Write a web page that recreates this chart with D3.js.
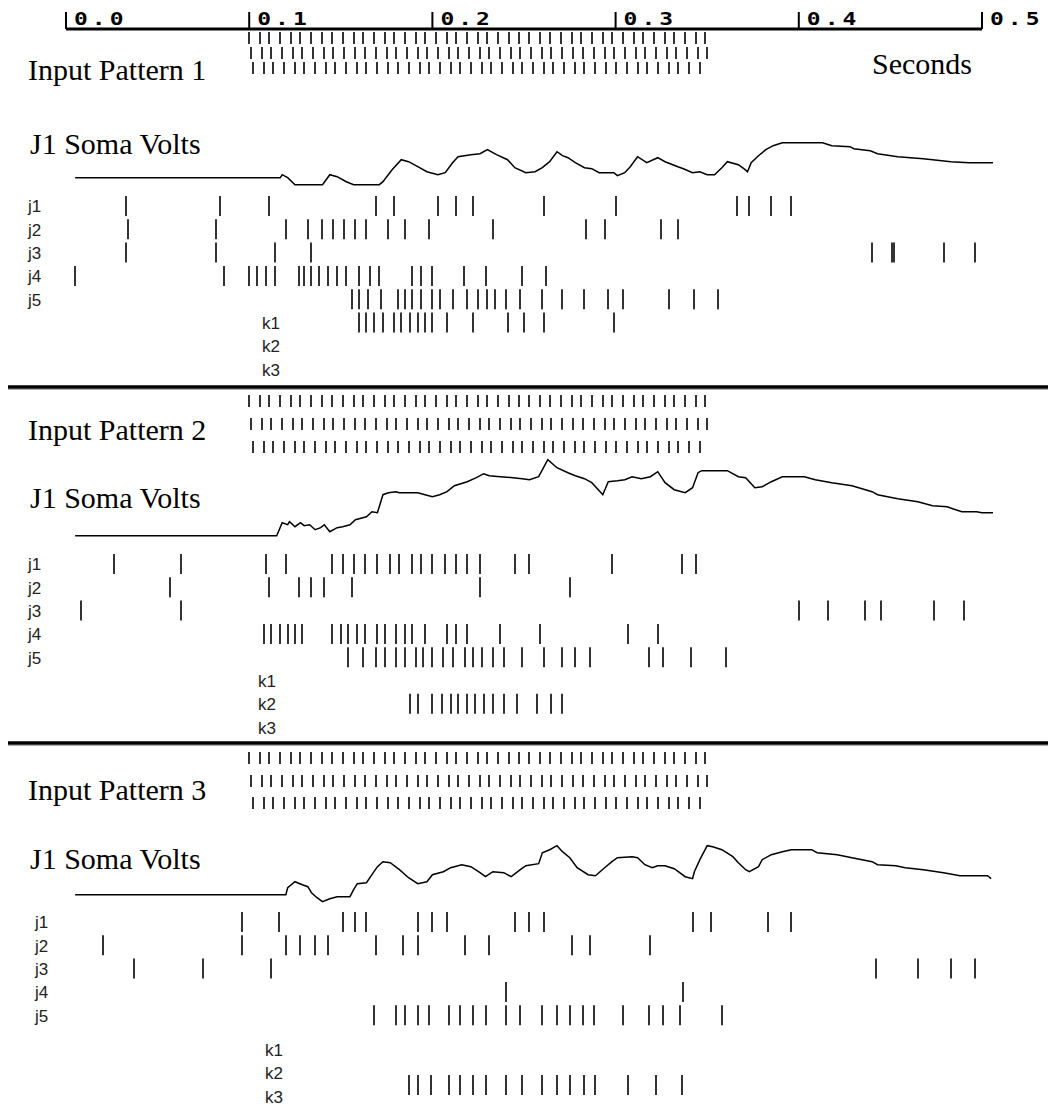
<!DOCTYPE html>
<html>
<head>
<meta charset="utf-8">
<script src="https://cdn.jsdelivr.net/npm/d3@7"></script>
<style>
  body { margin: 0; background: #fff; }
  svg { display: block; }
</style>
</head>
<body>
<div id="chart"></div>
<script>
// ---- data ----
const timeTicks = [0, 0.1, 0.2, 0.3, 0.4, 0.5];           // seconds
const cellNames = ["j1", "j2", "j3", "j4", "j5", "k1", "k2", "k3"];
const patternTitles = ["Input Pattern 1", "Input Pattern 2", "Input Pattern 3"];

// input spike trains (ms), three afferent rows per pattern
const inputRowA = [100,106,111,117,123,128,134,140,145,151,157,162,168,174,179,185,191,196,202,208,213,219,225,230,236,242,247,253,259,264,270,276,281,287,293,298,304,310,315,321,327,332,338,344,349];
const inputRowB = [101,107,112,118,124,129,135,141,146,152,158,163,169,175,180,186,192,197,203,209,214,220,226,231,237,243,248,254,260,265,271,277,282,288,294,299,305,311,316,322,328,333,339,345,350];
const inputRowC = [102,108,113,119,125,130,136,142,147,153,159,164,170,176,181,187,193,198,204,210,215,221,227,232,238,244,249,255,261,266,272,278,283,289,295,300,306,312,317,323,329,334,340,346];
const input1 = [inputRowA, inputRowB, inputRowC];
const input2 = [inputRowA, inputRowB, inputRowC];
const input3 = [inputRowA, inputRowB, inputRowC];

// J1 soma voltage, [ms, mV above rest]
const volts1 = [[5,0],[117,0],[118,3],[121,0],[125,-7],[140,-7],[144,3],[148,1],[153,-4],[157,-7],[171,-7],[173,-4],[178,8],[183,18],[187,16],[193,10],[197,6],[203,3],[207,5],[211,15],[214,21],[221,23],[226,24],[230,28],[235,23],[241,18],[245,10],[251,5],[256,6],[260,10],[264,16],[268,26],[271,22],[274,20],[278,15],[283,10],[287,9],[291,5],[299,5],[301,2],[305,5],[308,11],[312,21],[317,15],[323,20],[327,16],[334,11],[337,9],[342,5],[346,6],[350,3],[354,3],[358,10],[361,16],[367,13],[370,9],[372,6],[374,15],[378,22],[382,28],[386,32],[391,35],[413,35],[418,32],[428,31],[430,29],[439,27],[443,24],[454,21],[468,19],[483,16],[493,15],[506,15]];
const volts2 = [[5,0],[115,0],[118,13],[121,11],[122,14],[125,9],[128,13],[130,10],[133,11],[136,6],[139,8],[141,11],[144,4],[148,8],[151,9],[155,11],[158,16],[162,18],[164,19],[167,24],[170,23],[171,29],[173,41],[176,43],[180,44],[182,43],[192,43],[196,41],[200,39],[204,41],[208,44],[212,50],[219,54],[224,58],[228,62],[231,60],[237,59],[244,58],[249,57],[253,56],[258,59],[263,76],[268,68],[274,63],[278,60],[283,57],[287,53],[293,41],[296,54],[301,55],[305,56],[309,59],[314,57],[319,59],[323,64],[327,53],[332,46],[338,43],[342,48],[345,63],[347,65],[361,65],[367,59],[371,58],[376,48],[380,49],[385,54],[391,59],[403,59],[409,56],[418,53],[429,50],[440,44],[443,41],[454,37],[465,34],[473,30],[481,29],[484,27],[489,24],[497,24],[500,23],[506,23]];
const volts3 = [[5,-1],[120,-1],[121,6],[125,12],[129,9],[132,7],[134,1],[137,-4],[140,-8],[144,-5],[148,-3],[155,-3],[157,4],[159,10],[164,11],[167,19],[170,27],[173,32],[177,31],[182,24],[187,16],[192,10],[197,12],[200,19],[206,22],[210,26],[216,29],[221,27],[226,21],[229,17],[233,22],[239,21],[243,17],[248,24],[251,28],[258,30],[260,41],[264,44],[268,48],[271,42],[275,36],[279,26],[285,19],[289,18],[294,26],[298,32],[301,36],[309,37],[312,36],[316,29],[320,26],[323,28],[327,28],[332,25],[338,17],[342,15],[343,22],[346,34],[350,48],[353,47],[358,44],[364,37],[367,31],[371,24],[373,22],[378,27],[380,34],[385,39],[391,42],[396,44],[407,44],[410,41],[421,39],[429,36],[440,32],[443,29],[453,28],[458,26],[468,24],[479,21],[488,18],[503,18],[505,15]];

// output spike times (ms) of j1..j5, k1..k3
const spikes1 = [
  [33,84,111,169,179,203,213,222,261,300,366,373,385,396],
  [34,82,120,132,140,146,152,158,164,176,185,198,233,284,294,325,334],
  [33,82,114,134,440,451,452,479,496],
  [5,86,100,104,109,114,127,130,134,138,143,148,153,160,166,171,189,194,200,217,229,249,262],
  [156,160,165,172,181,185,189,194,200,204,211,219,225,230,234,240,248,260,271,283,296,304,329,343,356],
  [160,164,168,173,179,183,188,192,196,200,208,222,241,250,261,299],
  [],
  []
];
const spikes2 = [
  [26,63,109,120,145,151,157,163,170,177,182,189,194,200,207,213,219,226,245,253,298,336,344],
  [57,111,127,134,141,156,226,275],
  [8,63,400,416,436,445,474,490],
  [108,112,117,121,125,129,145,150,154,159,163,170,174,180,185,189,196,208,213,219,237,259,307,323],
  [154,162,169,174,180,185,191,195,200,206,211,218,222,227,233,239,249,261,271,278,286,318,326,341,360],
  [],
  [188,192,200,205,210,214,219,223,228,233,239,246,257,265,271],
  []
];
const spikes3 = [
  [96,116,151,158,164,192,200,208,245,253,261,342,352,383,396],
  [20,96,120,128,136,143,169,184,192,218,231,276,286,319],
  [37,75,112,442,465,483,496],
  [240,337],
  [168,180,185,192,198,209,215,222,229,240,248,260,268,275,282,288,304,318,326,335,358],
  [],
  [],
  [187,192,199,209,215,222,229,240,249,260,268,275,283,289,307,322,336]
];

const inputs = [input1, input2, input3];
const traces = [volts1, volts2, volts3];
const rasters = [spikes1, spikes2, spikes3];

// ---- layout ----
const W = 1055, H = 1111;
const panelStep = 358;
const inputTops = [[32, 47, 62], [37, 60, 83], [36, 59, 81]];
const inputLen = 12;
const titleY = [80, 82, 84];
const voltsLabelY = [154, 150, 153];
const rowCenter0 = 206, rowGap = 23.3, tickHalf = 10;
const jLabelX = [28, 28, 35];
const kLabelX = [262, 258, 265];
const kLabelDy = [0, 0, 11];
const spikeColor = "#333";

const svg = d3.select("#chart").append("svg")
  .attr("width", W)
  .attr("height", H);

const x = d3.scaleLinear().domain([0, 0.5]).range([66, 982]);
const xms = d => Math.round(x(d / 1000));   // snap to pixel so 2px ticks stay crisp
const v = d3.scaleLinear().domain([-10, 80]).range([187.7, 97.7]);

// time axis across the top
const axisY = 29;
svg.append("line")
  .attr("x1", x(0)).attr("x2", x(0.5))
  .attr("y1", axisY).attr("y2", axisY)
  .attr("stroke", "#000").attr("stroke-width", 3);

const ticks = svg.append("g").selectAll("g")
  .data(timeTicks)
  .enter().append("g");
ticks.append("line")
  .attr("x1", d => x(d)).attr("x2", d => x(d))
  .attr("y1", 12).attr("y2", axisY)
  .attr("stroke", "#000").attr("stroke-width", 2);
ticks.append("text")
  .attr("transform", d => `translate(${x(d) + 8},25) scale(1.35,1)`)
  .attr("font-family", "DejaVu Sans Mono")
  .attr("font-weight", "bold")
  .attr("font-size", 17)
  .attr("letter-spacing", 3)
  .text(d => d.toFixed(1));

svg.append("text")
  .attr("x", 872).attr("y", 74)
  .attr("font-family", "Liberation Serif")
  .attr("font-size", 30)
  .text("Seconds");

// separators between patterns
[387, 743].forEach(yy => {
  svg.append("line")
    .attr("x1", 8).attr("x2", 1048)
    .attr("y1", yy).attr("y2", yy)
    .attr("stroke", "#000").attr("stroke-width", 3.5);
  svg.append("line")
    .attr("x1", 8).attr("x2", 1048)
    .attr("y1", yy + 2.5).attr("y2", yy + 2.5)
    .attr("stroke", "#aaa").attr("stroke-width", 1);
});

const line = d3.line()
  .x(d => x(d[0] / 1000))
  .y(d => v(d[1]));

patternTitles.forEach((title, p) => {
  const g = svg.append("g").attr("transform", `translate(0,${p * panelStep})`);

  // input afferent spikes
  inputs[p].forEach((row, r) => {
    g.append("g").selectAll("line")
      .data(row)
      .enter().append("line")
      .attr("x1", d => xms(d)).attr("x2", d => xms(d))
      .attr("y1", inputTops[p][r]).attr("y2", inputTops[p][r] + inputLen)
      .attr("stroke", spikeColor).attr("stroke-width", 2);
  });

  g.append("text")
    .attr("x", 28).attr("y", titleY[p])
    .attr("font-family", "Liberation Serif")
    .attr("font-size", 30)
    .text(title);

  g.append("text")
    .attr("x", 30).attr("y", voltsLabelY[p])
    .attr("font-family", "Liberation Serif")
    .attr("font-size", 30)
    .text("J1 Soma Volts");

  // soma voltage trace
  g.append("path")
    .datum(traces[p])
    .attr("fill", "none")
    .attr("stroke", "#000")
    .attr("stroke-width", 1.5)
    .attr("d", line);

  // raster rows
  cellNames.forEach((name, r) => {
    const cy = rowCenter0 + r * rowGap;
    const isK = name[0] === "k";
    g.append("text")
      .attr("x", isK ? kLabelX[p] : jLabelX[p])
      .attr("y", cy + 2 + (isK ? kLabelDy[p] : 0))
      .attr("dominant-baseline", "middle")
      .attr("font-family", "Liberation Sans")
      .attr("font-size", 17)
      .attr("fill", "#222")
      .text(name);
    g.append("g").selectAll("line")
      .data(rasters[p][r])
      .enter().append("line")
      .attr("x1", d => xms(d)).attr("x2", d => xms(d))
      .attr("y1", cy - tickHalf).attr("y2", cy + tickHalf)
      .attr("stroke", spikeColor).attr("stroke-width", 2);
  });
});
</script>
</body>
</html>
